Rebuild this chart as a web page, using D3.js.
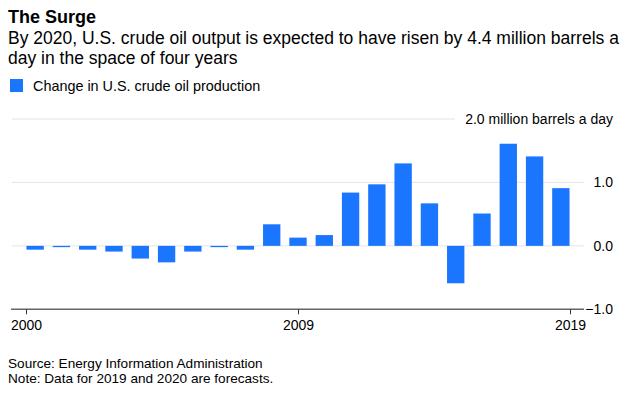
<!DOCTYPE html>
<html>
<head>
<meta charset="utf-8">
<script src="https://cdn.jsdelivr.net/npm/d3@7"></script>
<style>
  body { margin: 0; background: #fff; }
  text { font-family: "Liberation Sans", Arial, Helvetica, sans-serif; fill: #000; }
</style>
</head>
<body>
<div class="chart"></div>
<script>
// chart data
var years = ["2000","2001","2002","2003","2004","2005","2006","2007","2008","2009",
             "2010","2011","2012","2013","2014","2015","2016","2017","2018","2019","2020"];
var change = [-0.06, -0.02, -0.06, -0.09, -0.20, -0.26, -0.09, -0.02, -0.06, 0.34,
              0.13, 0.17, 0.84, 0.97, 1.30, 0.67, -0.59, 0.51, 1.61, 1.41, 0.91];
var xTickLabels = ["2000", "2009", "2019"];
var yTicks = [-1, 0, 1, 2];

var W = 629, H = 394;
var blue = "#1a76ff";

var svg = d3.select(".chart").append("svg")
    .attr("width", W)
    .attr("height", H);

// scales
var x = d3.scaleBand().domain(years).range([22, 574]).paddingInner(0.34).paddingOuter(0.17);
var xLab = d3.scalePoint().domain(xTickLabels).range([26, 570]);
var y = d3.scaleLinear().domain([-1, 2]).range([309.3, 119]);

// titles
svg.append("text").text("The Surge")
    .attr("x", 8).attr("y", 23)
    .style("font-size", "18px").style("font-weight", "bold");

var sub = ["By 2020, U.S. crude oil output is expected to have risen by 4.4 million barrels a",
           "day in the space of four years"];
svg.selectAll(".sub").data(sub).enter().append("text")
    .attr("class", "sub")
    .attr("x", 8)
    .attr("y", function(d, i) { return 44 + i * 20; })
    .style("font-size", "17.5px")
    .text(function(d) { return d; });

// legend
svg.append("rect").attr("x", 10).attr("y", 79).attr("width", 13).attr("height", 13).attr("fill", blue);
svg.append("text").text("Change in U.S. crude oil production")
    .attr("x", 33).attr("y", 91)
    .style("font-size", "14.4px");

// gridlines
svg.selectAll(".grid").data(yTicks.filter(function(d) { return d > -1; })).enter().append("line")
    .attr("class", "grid")
    .attr("x1", 12)
    .attr("x2", function(d) { return d === 2 ? 455 : 584; })
    .attr("y1", function(d) { return y(d); })
    .attr("y2", function(d) { return y(d); })
    .attr("stroke", "#e4e4e4")
    .attr("stroke-width", 1);

// bars
svg.selectAll(".bar").data(change).enter().append("rect")
    .attr("class", "bar")
    .attr("x", function(d, i) { return x(years[i]); })
    .attr("width", x.bandwidth())
    .attr("y", function(d) { return y(Math.max(0, d)); })
    .attr("height", function(d) { return Math.abs(y(d) - y(0)); })
    .attr("fill", blue);

// baseline at -1
svg.append("line")
    .attr("x1", 11).attr("x2", 584)
    .attr("y1", y(-1)).attr("y2", y(-1))
    .attr("stroke", "#666").attr("stroke-width", 1.5);

// x axis
var xAxis = d3.axisBottom(xLab).tickSize(5).tickSizeOuter(0).tickPadding(6);
var gx = svg.append("g")
    .attr("transform", "translate(0," + y(-1) + ")")
    .call(xAxis);
gx.select(".domain").remove();
gx.selectAll(".tick line").attr("stroke", "#333");
gx.selectAll(".tick text")
    .style("font-size", "14px")
    .style("font-family", "'Liberation Sans', Arial, sans-serif")
    .attr("fill", "#000");

// y axis labels on the right
var yAxis = d3.axisRight(y)
    .tickValues(yTicks)
    .tickSize(0)
    .tickFormat(function(d) { return d === 2 ? "2.0 million barrels a day" : d3.format(".1f")(d); });
var gy = svg.append("g")
    .attr("transform", "translate(613,0)")
    .call(yAxis);
gy.select(".domain").remove();
gy.selectAll(".tick text")
    .attr("x", 0)
    .attr("text-anchor", "end")
    .style("font-size", "14px")
    .style("font-family", "'Liberation Sans', Arial, sans-serif")
    .attr("fill", "#000");

// footer
svg.append("text").text("Source: Energy Information Administration")
    .attr("x", 8).attr("y", 368).style("font-size", "13.6px");
svg.append("text").text("Note: Data for 2019 and 2020 are forecasts.")
    .attr("x", 8).attr("y", 383).style("font-size", "13.6px");
</script>
</body>
</html>
